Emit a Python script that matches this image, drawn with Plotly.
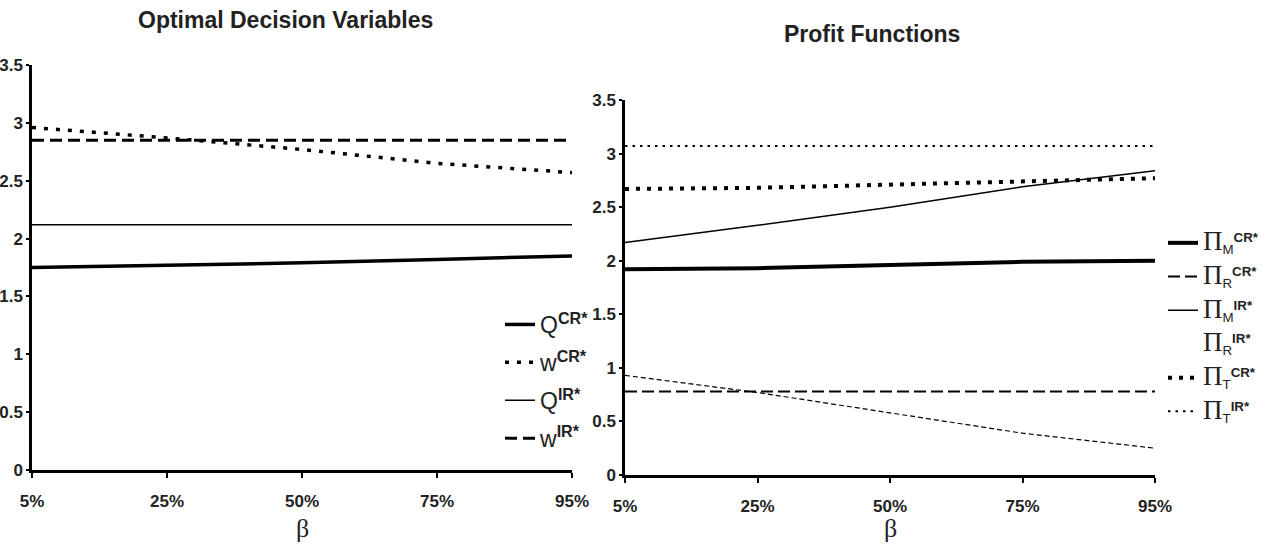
import plotly.graph_objects as go

beta = ["5%", "25%", "50%", "75%", "95%"]

# Left panel: optimal decision variables
Q_CR = [1.75, 1.77, 1.79, 1.82, 1.85]
W_CR = [2.96, 2.87, 2.77, 2.65, 2.57]
Q_IR = [2.12, 2.12, 2.12, 2.12, 2.12]
W_IR = [2.85, 2.85, 2.85, 2.85, 2.85]

# Right panel: profit functions
PI_M_CR = [1.92, 1.93, 1.96, 1.99, 2.00]
PI_R_CR = [0.78, 0.78, 0.78, 0.78, 0.78]
PI_M_IR = [2.17, 2.33, 2.50, 2.69, 2.84]
PI_R_IR = [0.93, 0.77, 0.58, 0.39, 0.25]
PI_T_CR = [2.67, 2.68, 2.71, 2.74, 2.77]
PI_T_IR = [3.07, 3.07, 3.07, 3.07, 3.07]

SANS = "Liberation Sans Narrow, Arial Narrow, Liberation Sans, Arial"
SERIF = "Liberation Serif, Times New Roman, serif"
W, H = 1265, 544

def px(x):
    return x / W

def py(y):
    return (H - y) / H

fig = go.Figure()

def sans_lbl(base, sup):
    return f"{base}<sup><b>{sup}</b></sup>"

def pi_lbl(sub, sup):
    return (f"<span style='font-family:{SERIF};font-size:27px'>Π</span>"
            f"<sub>{sub}</sub><sup><b>{sup}</b></sup>")

left = [
    (Q_CR, sans_lbl("Q", "CR*"), dict(width=3.5, dash="solid")),
    (W_CR, sans_lbl("w", "CR*"), dict(width=3.5, dash="4px,8px")),
    (Q_IR, sans_lbl("Q", "IR*"), dict(width=1.5, dash="solid")),
    (W_IR, sans_lbl("w", "IR*"), dict(width=3, dash="12px,6px")),
]
for i, (ys, name, ln) in enumerate(left):
    fig.add_trace(go.Scatter(x=beta, y=ys, name=name, mode="lines",
                             line=dict(color="black", **ln),
                             xaxis="x", yaxis="y", legend="legend",
                             legendgroup=f"L{i}"))

right = [
    (PI_M_CR, pi_lbl("M", "CR*"), dict(width=4, dash="solid"), True),
    (PI_R_CR, pi_lbl("R", "CR*"), dict(width=2, dash="12px,5px"), True),
    (PI_M_IR, pi_lbl("M", "IR*"), dict(width=1.5, dash="solid"), True),
    (PI_R_IR, pi_lbl("R", "IR*"), dict(width=1.2, dash="5px,3px"), False),
    (PI_T_CR, pi_lbl("T", "CR*"), dict(width=4, dash="4px,7px"), True),
    (PI_T_IR, pi_lbl("T", "IR*"), dict(width=2, dash="2.5px,5px"), True),
]
for i, (ys, name, ln, legline) in enumerate(right):
    fig.add_trace(go.Scatter(x=beta, y=ys, name=name, mode="lines",
                             line=dict(color="black", **ln),
                             xaxis="x2", yaxis="y2", legend="legend2",
                             showlegend=legline, legendrank=i,
                             legendgroup=f"R{i}"))
    if not legline:
        # legend entry without a visible line sample (as in the reference)
        fig.add_trace(go.Scatter(x=[None], y=[None], name=name, mode="lines",
                                 line=dict(color="rgba(0,0,0,0)", width=1),
                                 xaxis="x2", yaxis="y2", legend="legend2",
                                 legendrank=i, legendgroup=f"R{i}"))

tickfont = dict(family=SANS, size=17, color="#222", weight="bold")
xcommon = dict(type="category", range=[0, 4], showline=True, linecolor="black",
               linewidth=2.5, showgrid=False, zeroline=False, ticks="outside",
               ticklen=5, tickwidth=2, tickcolor="black", automargin=False,
               ticklabelstandoff=9, tickfont=tickfont)
ycommon = dict(range=[0, 3.5], dtick=0.5, showline=True, linecolor="black",
               linewidth=2.5, showgrid=False, zeroline=False, ticks="outside",
               ticklen=3, tickwidth=1.5, tickcolor="black", automargin=False,
               ticklabelstandoff=0, tickfont=tickfont)

fig.update_layout(
    width=W, height=H,
    margin=dict(l=0, r=0, t=0, b=0),
    paper_bgcolor="white", plot_bgcolor="white",
    xaxis=dict(domain=[px(32), px(572)], anchor="y", **xcommon),
    yaxis=dict(domain=[py(470), py(65)], anchor="x", **ycommon),
    xaxis2=dict(domain=[px(625), px(1155)], anchor="y2", **xcommon),
    yaxis2=dict(domain=[py(475), py(100)], anchor="x2", **ycommon),
    legend=dict(x=px(500), y=py(303), xanchor="left", yanchor="top",
                bgcolor="rgba(0,0,0,0)", itemwidth=30,
                font=dict(family=SANS, size=23, color="#222"),
                tracegroupgap=5),
    legend2=dict(x=px(1163), y=py(224), xanchor="left", yanchor="top",
                 bgcolor="rgba(0,0,0,0)", itemwidth=30,
                 font=dict(family=SANS, size=19, color="#222"),
                 tracegroupgap=6),
    annotations=[
        dict(text="<b>Optimal Decision Variables</b>", x=px(285), y=py(20),
             xanchor="center", yanchor="middle",
             xref="paper", yref="paper", showarrow=False,
             font=dict(family=SANS, size=23, color="#222")),
        dict(text="<b>Profit Functions</b>", x=px(872), y=py(34),
             xanchor="center", yanchor="middle",
             xref="paper", yref="paper", showarrow=False,
             font=dict(family=SANS, size=23, color="#222")),
        dict(text="β", x=px(302), y=py(528), xref="paper", yref="paper",
             xanchor="center", yanchor="middle",
             showarrow=False, font=dict(family=SERIF, size=26, color="#222")),
        dict(text="β", x=px(890), y=py(528), xref="paper", yref="paper",
             xanchor="center", yanchor="middle",
             showarrow=False, font=dict(family=SERIF, size=26, color="#222")),
    ],
)

fig.write_html("out.html")
